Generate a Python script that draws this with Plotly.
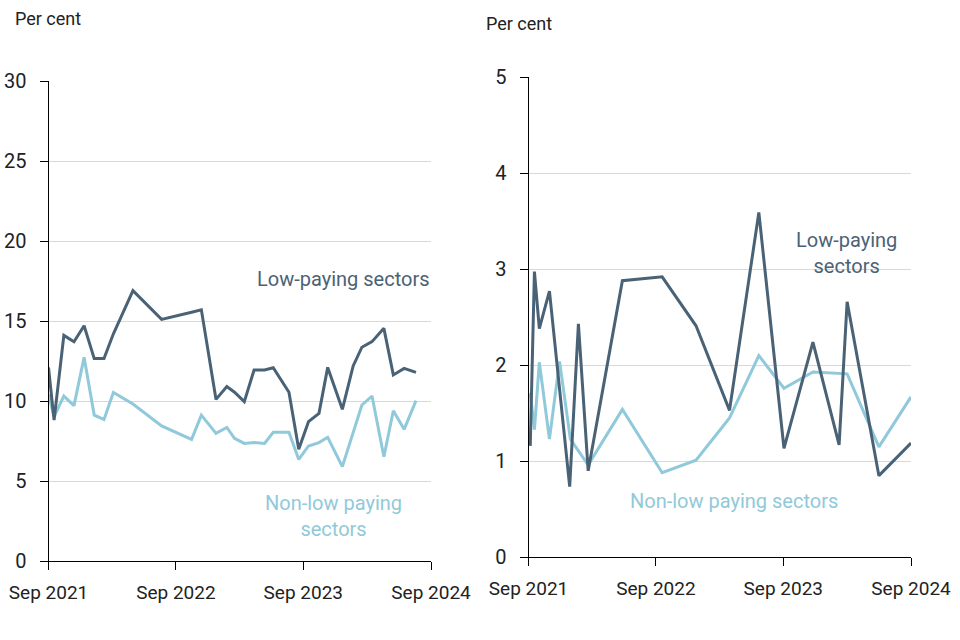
import plotly.graph_objects as go

# ---- Left panel data (per cent) ----
left_dates = ["2021-09-01", "2021-09-17", "2021-10-15", "2021-11-13", "2021-12-12",
              "2022-01-10", "2022-02-07", "2022-03-06", "2022-05-01", "2022-07-22",
              "2022-10-16", "2022-11-13", "2022-12-25", "2023-01-25", "2023-02-16",
              "2023-03-16", "2023-04-13", "2023-05-13", "2023-06-07", "2023-07-22",
              "2023-08-19", "2023-09-16", "2023-10-16", "2023-11-10", "2023-12-22",
              "2024-01-22", "2024-02-16", "2024-03-16", "2024-04-19", "2024-05-16",
              "2024-06-16", "2024-07-20"]
left_low = [12.1, 8.8, 14.1, 13.7, 14.7, 12.65, 12.65, 14.2, 16.9, 15.1,
            15.55, 15.7, 10.1, 10.9, 10.55, 9.96, 11.94, 11.94, 12.08, 10.55,
            6.98, 8.71, 9.23, 12.1, 9.48, 12.19, 13.36, 13.71, 14.54, 11.63,
            12.04, 11.79]
left_nonlow = [10.4, 9.02, 10.31, 9.71, 12.73, 9.12, 8.85, 10.54, 9.81, 8.44,
               7.6, 9.12, 7.98, 8.35, 7.67, 7.35, 7.4, 7.35, 8.04, 8.04,
               6.35, 7.19, 7.4, 7.73, 5.9, 8.08, 9.75, 10.31, 6.52, 9.39,
               8.23, 10.02]

# ---- Right panel data (per cent) ----
right_low_dates = ["2021-09-06", "2021-09-18", "2021-10-02", "2021-10-31", "2021-12-28",
                   "2022-01-22", "2022-02-19", "2022-05-28", "2022-09-19", "2022-12-25",
                   "2023-03-31", "2023-06-23", "2023-09-03", "2023-11-25", "2024-02-08",
                   "2024-03-02", "2024-06-01", "2024-09-01"]
right_low = [1.16, 2.975, 2.38, 2.77, 0.735, 2.43, 0.9, 2.88, 2.92, 2.41,
             1.53, 3.59, 1.135, 2.24, 1.17, 2.66, 0.85, 1.19]
right_nonlow_dates = ["2021-09-06", "2021-09-18", "2021-10-02", "2021-10-31", "2021-11-29",
                      "2021-12-30", "2022-02-19", "2022-05-28", "2022-09-19", "2022-12-25",
                      "2023-03-31", "2023-06-23", "2023-09-03", "2023-11-25", "2024-03-02",
                      "2024-06-01", "2024-09-01"]
right_nonlow = [1.71, 1.33, 2.03, 1.23, 2.04, 1.23, 0.96, 1.54, 0.88, 1.01,
                1.45, 2.1, 1.76, 1.93, 1.91, 1.15, 1.67]

x_ticks = ["2021-09-01", "2022-09-01", "2023-09-01", "2024-09-01"]
x_tick_labels = ["Sep 2021", "Sep 2022", "Sep 2023", "Sep 2024"]
left_y_ticks = [0, 5, 10, 15, 20, 25, 30]
right_y_ticks = [0, 1, 2, 3, 4, 5]

DARK = "#4a6276"
LIGHT = "#90c9da"
FONT = "Roboto, sans-serif"

W, H = 960, 640


def fx(px):
    return px / W


def fy(py):
    return 1 - py / H


fig = go.Figure()
fig.add_trace(go.Scatter(x=left_dates, y=left_nonlow, mode="lines",
                         line=dict(color=LIGHT, width=3), xaxis="x", yaxis="y"))
fig.add_trace(go.Scatter(x=left_dates, y=left_low, mode="lines",
                         line=dict(color=DARK, width=3), xaxis="x", yaxis="y"))
fig.add_trace(go.Scatter(x=right_nonlow_dates, y=right_nonlow, mode="lines",
                         line=dict(color=LIGHT, width=3), xaxis="x2", yaxis="y2"))
fig.add_trace(go.Scatter(x=right_low_dates, y=right_low, mode="lines",
                         line=dict(color=DARK, width=3), xaxis="x2", yaxis="y2"))

xcommon = dict(type="date", range=["2021-09-01", "2024-09-01"], tickvals=x_ticks,
               ticktext=x_tick_labels, showgrid=False, showline=True, linecolor="black",
               linewidth=1, ticks="outside", ticklen=8, tickcolor="black",
               tickfont=dict(size=19, color="#222"), zeroline=False, fixedrange=True,
               automargin=False, ticklabeloverflow="allow", ticklabelstandoff=6)
ycommon = dict(showgrid=True, gridcolor="#d9d9d9", gridwidth=1, showline=True,
               linecolor="black", linewidth=1, ticks="outside", ticklen=8,
               tickcolor="black", tickfont=dict(size=20, color="#222"),
               zeroline=False, fixedrange=True, automargin=False,
               ticklabeloverflow="allow", ticklabelstandoff=9)

fig.update_layout(
    width=W, height=H,
    margin=dict(l=0, r=0, t=0, b=0),
    paper_bgcolor="white", plot_bgcolor="white",
    showlegend=False,
    font=dict(family=FONT, color="#222"),
    xaxis=dict(domain=[fx(48.5), fx(431)], anchor="y", **xcommon),
    yaxis=dict(domain=[fy(561), fy(81)], anchor="x", range=[0, 30],
               tickvals=left_y_ticks, **ycommon),
    xaxis2=dict(domain=[fx(528.5), fx(911)], anchor="y2", **xcommon),
    yaxis2=dict(domain=[fy(557.3), fy(77)], anchor="x2", range=[0, 5],
                tickvals=right_y_ticks, **ycommon),
)

ann = []
ann.append(dict(text="Per cent", x=fx(13), y=fy(19), xref="paper", yref="paper",
                xanchor="left", yanchor="middle", showarrow=False,
                font=dict(size=18, color="#222")))
ann.append(dict(text="Per cent", x=fx(484), y=fy(24), xref="paper", yref="paper",
                xanchor="left", yanchor="middle", showarrow=False,
                font=dict(size=18, color="#222")))
ann.append(dict(text="Low-paying sectors", x=fx(432), y=fy(279), xref="paper",
                yref="paper", xanchor="right", yanchor="middle", showarrow=False,
                font=dict(size=20, color=DARK)))
ann.append(dict(text="Non-low paying<br>sectors", x=fx(333), y=fy(516),
                xref="paper", yref="paper", xanchor="center", yanchor="middle",
                showarrow=False, font=dict(size=20, color=LIGHT)))
ann.append(dict(text="Low-paying<br>sectors", x=fx(846), y=fy(253),
                xref="paper", yref="paper", xanchor="center", yanchor="middle",
                showarrow=False, font=dict(size=20, color=DARK)))
ann.append(dict(text="Non-low paying sectors", x=fx(734), y=fy(501),
                xref="paper", yref="paper", xanchor="center", yanchor="middle",
                showarrow=False, font=dict(size=20, color=LIGHT)))
fig.update_layout(annotations=ann)

fig.write_html("out.html", config={"displayModeBar": False},
               post_script="document.body.style.margin='0';document.body.style.overflow='hidden';")
